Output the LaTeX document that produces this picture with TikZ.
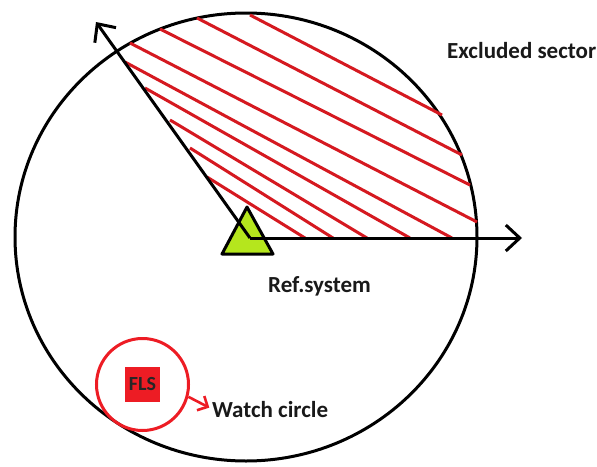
\documentclass[tikz,border=0pt]{standalone}
\usepackage{fontspec}
\setmainfont{Carlito}
\usetikzlibrary{arrows.meta}
\definecolor{paintRed}{HTML}{ED1C24}
\definecolor{paintLime}{HTML}{B5E61D}
\tikzset{
  rangeLine/.style={draw=black, line width=3pt},
  hatchLine/.style={draw=paintRed!90!black, line width=3pt},
  axisArc/.style={-{Straight Barb[length=14pt, width=26pt]}, line width=3pt, draw=black},
  watchArc/.style={-{Straight Barb[length=8pt, width=16pt]}, line width=2.6pt, draw=paintRed},
  refTri/.style={draw=black, fill=paintLime, line width=3pt, line join=round},
  watchRing/.style={circle, draw=paintRed, line width=3pt, minimum size=92pt, inner sep=0pt},
  flsBox/.style={fill=paintRed, minimum size=35pt, inner sep=0pt,
    font=\fontsize{20}{21}\selectfont\bfseries, text=black!85},
  lbl/.style={font=\fontsize{23}{26}\selectfont\bfseries, text=black!90, inner sep=0pt, anchor=base west},
}

\begin{document}
\begin{tikzpicture}[x=1pt, y=-1pt]
  \useasboundingbox (0,0) rectangle (597,466);
  % range circle
  \draw[rangeLine] (246,237) ellipse [x radius=231, y radius=224];
  % excluded sector hatching
  \foreach \sx/\sy/\ex/\ey in {250/15/442/115, 197/18/462/155, 160/29/470/185,
      130/43/477/222, 125/62/452/238, 145/88/410/238, 170/120/367/238,
      190/148/333/238, 207/177/305/238}
    \draw[hatchLine] (\sx,\sy) -- (\ex,\ey);
  % reference system
  \draw[refTri] (222,254) -- (273,254) -- (247,207) -- cycle;
  \coordinate (origin) at (250,238);
  \coordinate (eastTip) at (522,238);
  \coordinate (rayTip) at (96,22);
  \draw[axisArc] (origin) -- (eastTip);
  \draw[axisArc] (origin) -- (rayTip);
  % FLS and watch circle
  \node[watchRing] (watch) at (142.5,384.5) {};
  \node[flsBox] (fls) at (142.5,384.5) {FLS};
  \node[lbl] (watchLbl) at (212,417) {Watch circle};
  \draw[watchArc, shorten >=3pt] (watch.-15) -- (watchLbl.west);
  % labels
  \node[lbl] (exclLbl) at (447,58) {Excluded sector};
  \node[lbl] (refLbl) at (268,292) {Ref.system};
\end{tikzpicture}
\end{document}
